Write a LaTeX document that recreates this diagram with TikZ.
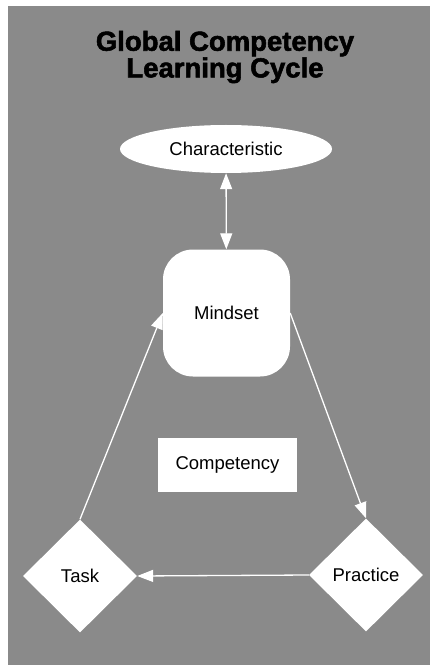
\documentclass[tikz,border=0pt]{standalone}
\usepackage{fontspec}
\setmainfont{Liberation Sans}
\newfontfamily\heavyfont{Liberation Sans Bold}[FakeBold=2]
\usetikzlibrary{shapes.geometric}
\usetikzlibrary{arrows.meta}
\definecolor{bggray}{RGB}{138,138,138}

\begin{document}
\begin{tikzpicture}[x=1pt, y=-1pt,
  box/.style={fill=white, draw=none, inner sep=0pt, font=\fontsize{18.5}{20}\selectfont},
  oval/.style={box, ellipse, minimum width=212pt, minimum height=48pt},
  soft/.style={box, rectangle, rounded corners=30pt, minimum width=127pt, minimum height=127pt},
  flat/.style={box, rectangle, minimum width=139pt, minimum height=54pt},
  kite/.style={box, diamond, minimum width=114pt, minimum height=113pt},
  link/.style={white, line width=1.3pt},
  >={Triangle[length=16pt,width=12pt]}]
\useasboundingbox (0,0) rectangle (430,668);
\fill[bggray] (8,6) rectangle (430,665);
\node[align=center, font=\heavyfont\fontsize{27.5}{25}\selectfont] (ttl) at (225,57) {Global Competency\\Learning Cycle};
\node[oval] (char) at (226,149) {Characteristic};
\node[soft] (mind) at (226.5,313) {Mindset};
\node[flat] (comp) at (227.5,465) {Competency};
\node[kite] (task) at (80,576) {Task};
\node[kite] (prac) at (366,575) {Practice};
\draw[link, <->] (char) -- (mind);
\draw[link, ->] (mind.east) -- (prac.north);
\draw[link, ->] (prac.west) -- (task.east);
\draw[link, ->] (task.north) -- (mind.west);
\end{tikzpicture}
\end{document}
